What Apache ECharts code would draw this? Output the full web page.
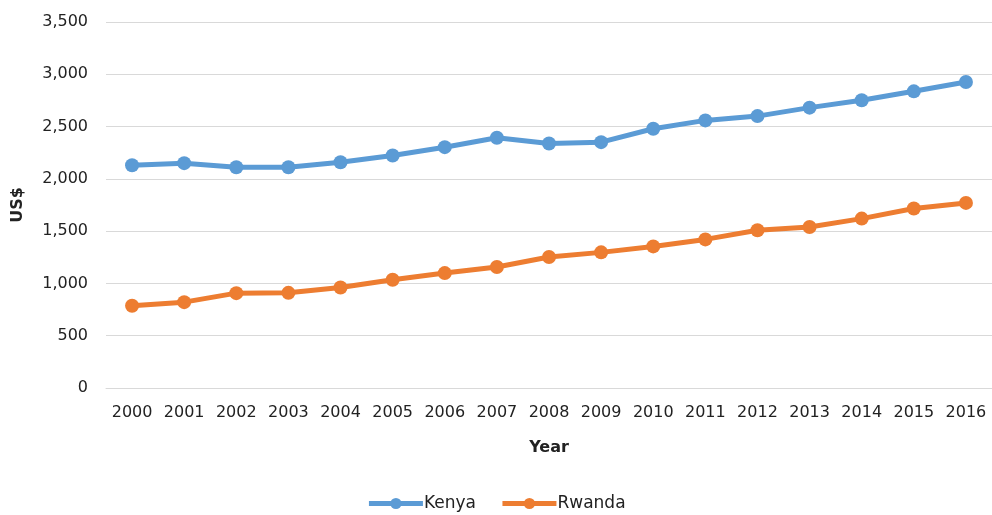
<!DOCTYPE html>
<html>
<head>
<meta charset="utf-8">
<script src="https://cdn.jsdelivr.net/npm/echarts@6/dist/echarts.min.js"></script>
<style>
  html, body { margin: 0; padding: 0; background: #fff; }
  #chart { width: 992px; height: 515px; }
</style>
</head>
<body>
<div id="chart"></div>
<script>
// GDP per capita, US$
const years = ['2000','2001','2002','2003','2004','2005','2006','2007','2008','2009','2010','2011','2012','2013','2014','2015','2016'];
const kenya = [2130, 2150, 2111, 2111, 2159, 2223, 2303, 2393, 2338, 2351, 2479, 2559, 2600, 2681, 2751, 2837, 2926];
const rwanda = [786, 821, 907, 910, 961, 1035, 1099, 1157, 1253, 1297, 1354, 1421, 1508, 1540, 1620, 1716, 1770];

const font = 'DejaVu Sans';
const chart = echarts.init(document.getElementById('chart'));

function lineSeries(name, data, color) {
  return {
    name: name,
    type: 'line',
    data: data,
    symbol: 'circle',
    symbolSize: 14,
    lineStyle: { width: 5, color: color },
    itemStyle: { color: color },
    animation: false
  };
}

chart.setOption({
  animation: false,
  grid: { left: 106, right: 0, top: 22, bottom: 127 },
  legend: {
    bottom: -2,
    left: 'center',
    itemWidth: 54,
    itemHeight: 14,
    itemGap: 24,
    lineStyle: { width: 5 },
    textStyle: { fontFamily: font, fontSize: 17, color: '#222', padding: [0, 0, 0, -4] },
    data: ['Kenya', 'Rwanda']
  },
  xAxis: {
    type: 'category',
    data: years,
    name: 'Year',
    nameLocation: 'middle',
    nameGap: 52,
    nameTextStyle: { fontFamily: font, fontSize: 16, fontWeight: 'bold', color: '#222' },
    axisLine: { lineStyle: { color: '#d9d9d9', width: 1 } },
    axisTick: { show: false },
    axisLabel: { fontFamily: font, fontSize: 16, color: '#222', margin: 17, interval: 0 }
  },
  yAxis: {
    type: 'value',
    min: 0,
    max: 3500,
    interval: 500,
    name: 'US$',
    nameLocation: 'middle',
    nameGap: 80,
    nameRotate: 90,
    nameTextStyle: { fontFamily: font, fontSize: 16, fontWeight: 'bold', color: '#222' },
    axisLine: { show: false },
    axisTick: { show: false },
    splitLine: { lineStyle: { color: '#d9d9d9', width: 1 } },
    axisLabel: {
      fontFamily: font, fontSize: 16, color: '#222', margin: 18,
      formatter: v => v.toLocaleString('en-US')
    }
  },
  series: [
    lineSeries('Kenya', kenya, '#5B9BD5'),
    lineSeries('Rwanda', rwanda, '#ED7D31')
  ]
});
</script>
</body>
</html>
